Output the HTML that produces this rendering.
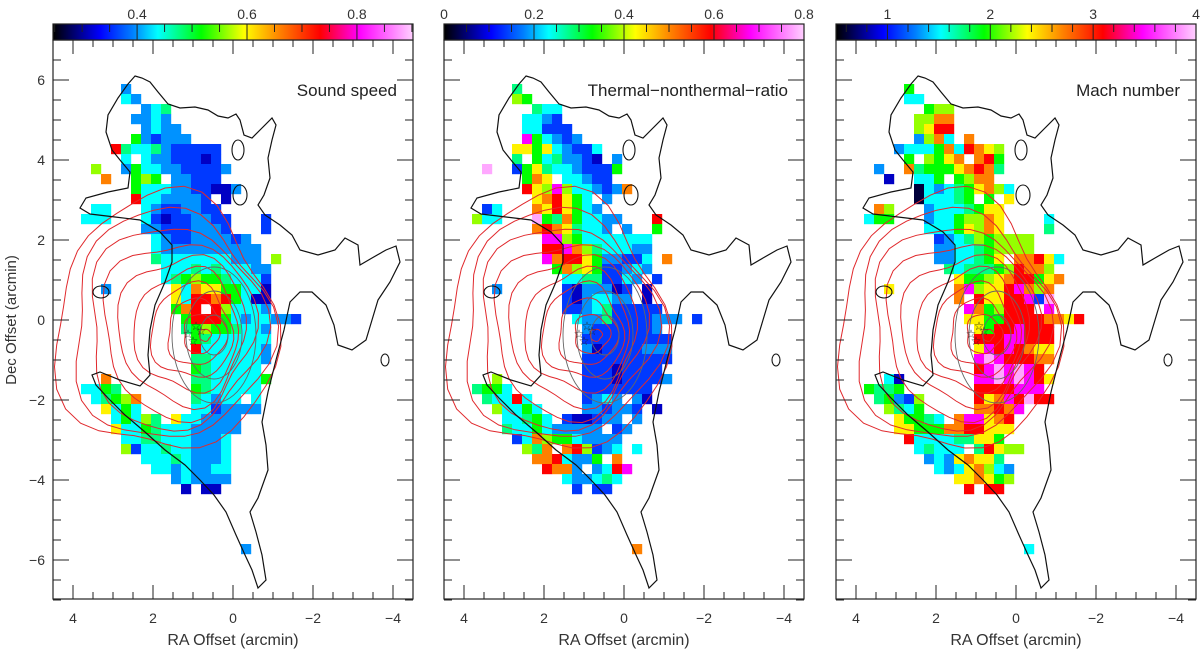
<!DOCTYPE html>
<html><head><meta charset="utf-8"><style>
html,body{margin:0;padding:0;background:#fff;}
svg{display:block;font-family:"Liberation Sans","DejaVu Sans",sans-serif;}
</style></head><body>
<svg id="fig" width="1200" height="652" viewBox="0 0 1200 652" xmlns="http://www.w3.org/2000/svg">
<text x="16" y="320" font-size="15" fill="#333" text-anchor="middle" transform="rotate(-90 16 320)">Dec Offset (arcmin)</text>
</svg>
<script>
// ---- data ----
const panelTitles = ["Sound speed", "Thermal\u2212nonthermal\u2212ratio", "Mach number"];
const cbarMin = [0.247, 0, 0.5];
const cbarMax = [0.902, 0.8, 4.0];
const cbarLabels = [["0.4","0.6","0.8"], ["0","0.2","0.4","0.6","0.8"], ["1","2","3","4"]];
const cbarLabelValues = [[0.4,0.6,0.8], [0,0.2,0.4,0.6,0.8], [1,2,3,4]];
const cbarMinorStep = [0.05, 0.05, 0.2];
const xTickLabels = ["4","2","0","\u22122","\u22124"];
const xTickValues = [4,2,0,-2,-4];
const yTickLabels = ["6","4","2","0","\u22122","\u22124","\u22126"];
const yTickValues = [6,4,2,0,-2,-4,-6];
// code letters -> fraction of colour scale
const codeKeys = ["0","1","2","3","4","5","6","7","8","9","R","M","P"];
const codeFractions = [0.03,0.1,0.17,0.23,0.29,0.35,0.41,0.48,0.54,0.63,0.74,0.85,0.97];
// rows: "startCol|codes" segments; a segment without "|" continues after one blank cell
const soundSpeedRows = ["0|3","0|43","2|345","1|3343","2|3433","1|632333","-1|R5445322222","0|4.43322212","-3|7 0|36443322223","-2|9 1|676.33222","1|64443322113","1|R4433332.1","-3|44 2|43223322","-4|444 2|421223322 14|2","2|332223332 14|2","3|4322333323","3|43333333333","3|54444444333 15|7","4|44454544433","4|45676654442","-2|3 5|8498866441","5|84RR9R6411","5|69R.R74443","6|6RRR64344332","6|567665443","7|65444444","7|R4444443","7|55444443","7|6544444","-2|9 7|55444446","-4|4465 7|6544444","-3|45679 7|54344.4","-2|8464 7|4423333","-1|46475.8443333","-1|8446544433333","0|44554443334","0|72445443334","2|444543334","3|44343344","5|343333","6|1.11","","","","","","12|3"];
const ratioRows = ["0|5","0|76","2|544","1|4432","1|44222","1|M64323","0|886843224","0|5.6453321 3","-3|P 0|26854432226","1|698.44322","1|R87M7443239","2|89R864.3","-3|24 2|98R8643","-4|744 2|P65964433 14|R","2|9R985443 3 14|6","3|MM764444444","3|RRM97544433","3|M9RR8633224 15|9","4|6978622343","5|44552243 2","-2|3 5|2133312.1","5|2134433.1","5|2234522222","6|43352222333 2","7|32222223","7|222222222","7|312222333","7|222222222","7|22212222","-2|7 7|222122223","-4|5664 7|2222222","-3|544R4 7|2343.31","-2|74464 7|332332 1","-1|44564.211233 3","-1|5446433333 23","0|24976643333","1|759 9R7234 4","2|99R4336 9","3|R993 34RM","5|433454","6|2.22","","","","","","12|9"];
const machRows = ["0|6","0|44","2|677","1|7799","1|78RR","1|3794 9","-1|3444694R987","0|6.7689 9R6","-3|3 0|9566689R95","-2|1 1|446.6799","1|0434568974","1|044456 6.8","-3|97 2|34445688","-4|466 2|34467798 14|4","2|44468798 14|5","3|2345767777","3|3344567777","3|3344568 99R8 15|4","4|5455567R997","5|866789RR689","-2|8 5|9M788RM979","5|9.R88RRM2P","5|.M967RRR.M","6|8866RRRR998R","7|86RRMRRR","7|RRRMMRRR","7|8MRMR988","7|MPMRRR99","7|RMPMPMR","-2|41 7|MMPMPMR8","-4|6556 7|RRRRMMM","-3|56327 7|R89MRPRR","-2|7546 7|99R9M","-1|86654.9MM89R","-1|8866699RR888","0|R444455886","1|45444 5R877","2|34389885","3|43489743","5|889867","6|R.RR","","","","","","12|4"];
const cloudOutline = [[135,76],[142,78],[150,82],[158,92],[168,104],[180,108],[195,107],[208,110],[218,116],[228,118],[236,114],[240,120],[244,135],[252,138],[262,128],[272,118],[276,125],[272,140],[268,158],[270,178],[264,195],[258,205],[265,215],[280,225],[292,235],[300,250],[318,255],[335,250],[345,238],[358,245],[360,265],[372,258],[386,250],[396,246],[400,262],[390,282],[378,300],[372,320],[366,340],[352,350],[338,345],[334,325],[326,305],[312,292],[300,292],[290,302],[284,330],[276,360],[268,392],[262,422],[266,445],[268,470],[258,498],[250,512],[256,532],[262,555],[266,580],[258,588],[252,570],[245,555],[236,535],[226,512],[214,495],[200,480],[185,465],[165,450],[145,432],[125,415],[108,398],[96,385],[92,375],[100,372],[120,380],[140,386],[150,375],[148,355],[150,330],[155,305],[165,282],[172,262],[172,245],[160,232],[140,220],[115,217],[90,214],[80,208],[86,198],[108,192],[128,188],[130,172],[120,160],[112,150],[106,132],[108,115],[118,98],[128,84]];
const panelRows = [soundSpeedRows, ratioRows, machRows];

// ---- layout ----
const NS = "http://www.w3.org/2000/svg";
const svg = document.getElementById("fig");
const panelX = [53, 444, 836];
const PT = 40, PW = 360, PH = 559, PX_PER = 40;
const xScale = ra => (4.5 - ra) * PX_PER;
const yScale = dec => (7 - dec) * PX_PER;
const gridRa0 = 2.8, gridDec0 = 5.9, cellStep = 0.25;
const cmapStops = [[0,[0,0,0]],[0.13,[0,0,255]],[0.22,[0,128,255]],[0.29,[0,255,255]],[0.41,[0,255,0]],[0.53,[255,255,0]],[0.63,[255,128,0]],[0.74,[255,0,0]],[0.85,[255,0,255]],[1,[255,210,255]]];
function cmap(f){
  f = Math.max(0, Math.min(1, f));
  for (let i=1;i<cmapStops.length;i++){
    if (f <= cmapStops[i][0]){
      const a=cmapStops[i-1], b=cmapStops[i], t=(f-a[0])/(b[0]-a[0]);
      const c=a[1].map((v,k)=>Math.round(v+(b[1][k]-v)*t));
      return `rgb(${c[0]},${c[1]},${c[2]})`;
    }
  }
  return "rgb(255,210,255)";
}
function mk(tag, attrs, parent){
  const e = document.createElementNS(NS, tag);
  for (const k in attrs) e.setAttribute(k, attrs[k]);
  (parent||svg).appendChild(e);
  return e;
}

panelX.forEach((px, p) => {
  const vmin = cbarMin[p], vmax = cbarMax[p];
  const vx = v => (v - vmin) / (vmax - vmin) * PW;
  const g = mk("g", {transform:`translate(${px},${PT})`});
  
  

  // pixel map
  const cells = mk("g", {}, g);
  
  
  panelRows[p].forEach((row, r) => {
    if (!row) return;
    let next = 0;
    row.split(" ").forEach(seg => {
      let c0, codes;
      if (seg.indexOf("|") >= 0){
        const parts = seg.split("|");
        c0 = parseInt(parts[0], 10); codes = parts[1];
      } else {
        c0 = next + 1; codes = seg;
      }
      for (let i=0;i<codes.length;i++){
        const k = codeKeys.indexOf(codes[i]);
        if (k < 0) continue;
        const value = vmin + codeFractions[k] * (vmax - vmin);
        const ra = gridRa0 - (c0 + i) * cellStep;
        const dec = gridDec0 - r * cellStep;
        const rc = mk("rect", {x:xScale(ra), y:yScale(dec), width:10.2, height:10.2, fill:cmap((value - vmin)/(vmax - vmin))}, cells);
        
        
      }
      next = c0 + codes.length;
    });
  });

  // red contours
  const rc = mk("g", {fill:"none", stroke:"#e0282c", "stroke-width":"1"}, g);
  
  
  for (let k=0;k<10;k++){
    const t = k/9;
    const cx = 165 + 40*t - 53, cy = 325 + 10*t - 40;
    const rx = 104*(1-t)+6, ry = 122*(1-t)+6;
    const pts = [];
    for (let a=0;a<=40;a++){
      const th = a/40*2*Math.PI;
      const wob = 1 + 0.07*Math.sin(3*th + k) + 0.05*Math.cos(5*th);
      pts.push([(cx + rx*wob*Math.cos(th)).toFixed(1), (cy + ry*wob*Math.sin(th)).toFixed(1)]);
    }
    mk("path", {d:"M"+pts.map(q=>q.join(",")).join("L")+"Z"}, rc);
  }
  // dark contours over core
  const dc = mk("g", {fill:"none", stroke:"#666", "stroke-width":"0.9"}, g);
  
  
  for (let k=0;k<3;k++){
    mk("ellipse", {cx:214-53, cy:335-40, rx:14+k*14, ry:20+k*24}, dc);
  }

  // cloud outline
  const ol = mk("path", {d:"M"+cloudOutline.map(q=>(q[0]-53)+","+(q[1]-40)).join("L")+"Z", fill:"none", stroke:"#111", "stroke-width":"1.2"}, g);
  
  
  [[238-53,150-40,6,10],[240-53,195-40,7,10],[101-53,292-40,8,6],[385-53,360-40,4,6]].forEach(e=>{
    mk("ellipse", {cx:e[0], cy:e[1], rx:e[2], ry:e[3], fill:"none", stroke:"#111", "stroke-width":"1.1"}, g);
  });

  // stars
  [[188,334],[196,326],[201,331],[193,341]].forEach(s=>{
    const t = mk("text", {x:s[0]-53, y:s[1]-40+4, "font-size":"12", "text-anchor":"middle", fill:"#222"}, g);
    t.textContent = "\u2606";
    
    
  });

  // frame
  mk("rect", {x:0, y:0, width:PW, height:PH, fill:"none", stroke:"#222", "stroke-width":"1.2"}, g);

  // axis ticks
  const tk = mk("g", {stroke:"#222", "stroke-width":"1"}, g);
  for (let v=-4.5; v<=4.5001; v+=0.5){
    const x = xScale(v), major = Math.abs(v % 2) < 1e-6;
    const L = major ? 14 : 7;
    mk("line", {x1:x, y1:PH, x2:x, y2:PH-L}, tk);
    mk("line", {x1:x, y1:0, x2:x, y2:L}, tk);
  }
  for (let v=-7; v<=7.0001; v+=0.5){
    const y = yScale(v), major = Math.abs(v % 2) < 1e-6;
    const L = major ? 16 : 8;
    mk("line", {x1:0, y1:y, x2:L, y2:y}, tk);
    mk("line", {x1:PW, y1:y, x2:PW-L, y2:y}, tk);
  }
  xTickValues.forEach((v,i)=>{
    const t = mk("text", {x:xScale(v), y:PH+24, "font-size":"14", "text-anchor":"middle", fill:"#333"}, g);
    t.textContent = xTickLabels[i];
    
    
  });
  if (p === 0){
    yTickValues.forEach((v,i)=>{
      const t = mk("text", {x:-8, y:yScale(v)+5, "font-size":"14", "text-anchor":"end", fill:"#333"}, g);
      t.textContent = yTickLabels[i];
      
      
    });
  }
  const xt = mk("text", {x:PW/2, y:PH+46, "font-size":"16", "text-anchor":"middle", fill:"#333"}, g);
  xt.textContent = "RA Offset (arcmin)";
  
  

  const tt = mk("text", {x:PW-16, y:56, "font-size":"17", "text-anchor":"end", fill:"#222"}, g);
  tt.textContent = panelTitles[p];
  
  

  // colour bar
  const cb = mk("g", {transform:"translate(0,-16)"}, g);
  
  
  for (let i=0;i<PW;i++){
    mk("rect", {x:i, y:0, width:1.3, height:16, fill:cmap(i/PW)}, cb);
  }
  mk("rect", {x:0, y:0, width:PW, height:16, fill:"none", stroke:"#222", "stroke-width":"1.2"}, cb);
  const step = cbarMinorStep[p];
  for (let v=Math.ceil(vmin/step - 1e-6)*step; v<=vmax+1e-6; v+=step){
    const x = vx(v);
    const isMajor = cbarLabelValues[p].some(m=>Math.abs(m-v)<1e-6);
    mk("line", {x1:x, y1:0, x2:x, y2:isMajor?16:8, stroke:"#222", "stroke-width":"1"}, cb);
  }
  cbarLabelValues[p].forEach((v,i)=>{
    const t = mk("text", {x:vx(v), y:-5, "font-size":"14", "text-anchor":"middle", fill:"#333"}, cb);
    t.textContent = cbarLabels[p][i];
    
    
  });
});
</script>
</body></html>
